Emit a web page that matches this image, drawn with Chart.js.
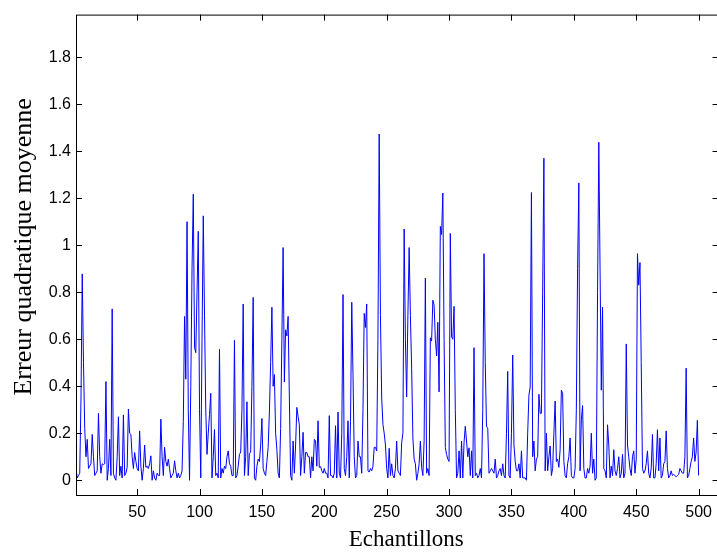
<!DOCTYPE html>
<html>
<head>
<meta charset="utf-8">
<script src="https://cdn.jsdelivr.net/npm/chart.js@4.4.1/dist/chart.umd.min.js"></script>
<style>
  html, body { margin: 0; padding: 0; overflow: hidden; background: #fff; }
  canvas { display: block; }
</style>
</head>
<body>
<canvas id="mse" width="720" height="554"></canvas>
<script>
// erreur quadratique moyenne, echantillons 1..500
const erreur = [
  0.05, 0.01, 0.02, 0.03, 0.35, 0.878, 0.5, 0.22, 0.1, 0.174,
  0.05, 0.06, 0.07, 0.195, 0.1, 0.02, 0.03, 0.04, 0.285, 0.1,
  0.03, 0.07, 0.067, 0.07, 0.42, 0.0, 0.05, 0.174, 0.02, 0.729,
  0.03, 0.01, 0.0, 0.1, 0.27, 0.02, 0.06, 0.01, 0.278, 0.02,
  0.03, 0.055, 0.303, 0.2, 0.195, 0.1, 0.05, 0.118, 0.08, 0.05,
  0.04, 0.21, 0.06, 0.0, 0.05, 0.15, 0.055, 0.06, 0.05, 0.07,
  0.104, 0.0, 0.04, 0.01, 0.0, 0.03, 0.02, 0.02, 0.26, 0.1,
  0.02, 0.14, 0.08, 0.06, 0.09, 0.05, 0.01, 0.02, 0.03, 0.083,
  0.04, 0.01, 0.03, 0.01, 0.02, 0.04, 0.25, 0.697, 0.43, 1.10,
  0.3, 0.0, 0.4, 0.9, 1.217, 0.564, 0.543, 0.8, 1.059, 0.3,
  0.01, 0.6, 1.125, 0.7, 0.3, 0.11, 0.2, 0.28, 0.37, 0.01,
  0.1, 0.216, 0.02, 0.03, 0.01, 0.557, 0.01, 0.05, 0.03, 0.06,
  0.05, 0.1, 0.125, 0.07, 0.06, 0.02, 0.02, 0.595, 0.01, 0.02,
  0.06, 0.11, 0.12, 0.3, 0.75, 0.02, 0.1, 0.334, 0.02, 0.114,
  0.12, 0.4, 0.778, 0.01, 0.0, 0.06, 0.09, 0.08, 0.15, 0.263,
  0.05, 0.03, 0.02, 0.08, 0.14, 0.29, 0.5, 0.736, 0.4, 0.45,
  0.2, 0.13, 0.03, 0.01, 0.22, 0.6, 0.99, 0.418, 0.64, 0.614,
  0.697, 0.35, 0.02, 0.0, 0.167, 0.03, 0.15, 0.31, 0.27, 0.236,
  0.02, 0.1, 0.204, 0.03, 0.118, 0.118, 0.1, 0.1, 0.01, 0.1,
  0.04, 0.174, 0.167, 0.06, 0.253, 0.055, 0.058, 0.04, 0.03, 0.05,
  0.03, 0.03, 0.01, 0.275, 0.02, 0.02, 0.01, 0.03, 0.232, 0.01,
  0.29, 0.03, 0.01, 0.2, 0.79, 0.05, 0.02, 0.1, 0.253, 0.01,
  0.25, 0.757, 0.45, 0.1, 0.01, 0.02, 0.167, 0.1, 0.1, 0.03,
  0.3, 0.71, 0.65, 0.75, 0.04, 0.035, 0.05, 0.04, 0.06, 0.14,
  0.14, 0.125, 0.6, 1.473, 0.7, 0.35, 0.237, 0.2, 0.15, 0.05,
  0.01, 0.136, 0.02, 0.07, 0.02, 0.01, 0.05, 0.167, 0.04, 0.03,
  0.02, 0.16, 0.2, 1.069, 0.6, 0.355, 0.7, 0.99, 0.7, 0.477,
  0.18, 0.09, 0.07, 0.0, 0.03, 0.07, 0.167, 0.055, 0.02, 0.167,
  0.86, 0.03, 0.05, 0.02, 0.606, 0.592, 0.766, 0.745, 0.6, 0.529,
  0.672, 0.376, 1.08, 1.045, 1.222, 0.6, 0.14, 0.11, 0.09, 0.08,
  1.05, 0.61, 0.6, 0.74, 0.3, 0.01, 0.03, 0.125, 0.01, 0.167,
  0.01, 0.16, 0.23, 0.167, 0.1, 0.138, 0.02, 0.125, 0.01, 0.564,
  0.02, 0.03, 0.01, 0.02, 0.05, 0.01, 0.3, 0.964, 0.5, 0.23,
  0.22, 0.03, 0.04, 0.05, 0.04, 0.03, 0.09, 0.01, 0.02, 0.04,
  0.05, 0.02, 0.07, 0.02, 0.01, 0.2, 0.463, 0.02, 0.01, 0.2,
  0.533, 0.15, 0.08, 0.04, 0.04, 0.07, 0.01, 0.125, 0.01, 0.01,
  0.01, 0.0, 0.2, 0.362, 0.397, 1.224, 0.1, 0.167, 0.04, 0.09,
  0.1, 0.366, 0.285, 0.285, 0.8, 1.37, 0.04, 0.2, 0.04, 0.1,
  0.146, 0.02, 0.05, 0.2, 0.337, 0.08, 0.09, 0.055, 0.13, 0.383,
  0.37, 0.08, 0.02, 0.01, 0.07, 0.1, 0.18, 0.02, 0.01, 0.01,
  0.05, 0.3, 0.9, 1.265, 0.04, 0.257, 0.318, 0.05, 0.01, 0.01,
  0.05, 0.03, 0.06, 0.2, 0.03, 0.09, 0.0, 0.01, 0.8, 1.438,
  0.9, 0.383, 0.736, 0.05, 0.04, 0.01, 0.236, 0.15, 0.01, 0.06,
  0.02, 0.13, 0.04, 0.02, 0.05, 0.1, 0.01, 0.03, 0.11, 0.01,
  0.03, 0.58, 0.15, 0.1, 0.05, 0.02, 0.1, 0.125, 0.03, 0.09,
  0.964, 0.83, 0.926, 0.5, 0.05, 0.03, 0.04, 0.07, 0.125, 0.03,
  0.01, 0.05, 0.195, 0.01, 0.01, 0.07, 0.215, 0.04, 0.18, 0.01,
  0.02, 0.07, 0.08, 0.21, 0.05, 0.01, 0.02, 0.04, 0.02, 0.025,
  0.02, 0.015, 0.02, 0.025, 0.05, 0.04, 0.03, 0.03, 0.1, 0.477,
  0.01, 0.02, 0.05, 0.08, 0.1, 0.18, 0.08, 0.12, 0.255, 0.02
];

// sample numbers 1..N
const echantillons = [];
for (let i = 1; i <= erreur.length; i++) echantillons.push(i);

const xTicks = [50, 100, 150, 200, 250, 300, 350, 400, 450, 500];
const yTicks = [0, 0.2, 0.4, 0.6, 0.8, 1, 1.2, 1.4, 1.6, 1.8];
const xTitle = "Echantillons";
const yTitle = "Erreur quadratique moyenne";

const serif = "'Liberation Serif', 'Times New Roman', serif";

// matlab-like box with inward ticks on every side, plus both axis labels
const boxTicks = {
  id: "boxTicks",
  afterDraw(chart) {
    const { ctx, chartArea: a, scales: { x, y } } = chart;
    ctx.save();
    ctx.strokeStyle = "#000";
    ctx.lineWidth = 1;
    ctx.strokeRect(a.left + 0.5, a.top + 0.5, a.right - a.left, a.bottom - a.top);
    ctx.beginPath();
    for (const v of xTicks) {
      const px = Math.round(x.getPixelForValue(v)) + 0.5;
      ctx.moveTo(px, a.bottom);
      ctx.lineTo(px, a.bottom - 6);
      ctx.moveTo(px, a.top);
      ctx.lineTo(px, a.top + 6);
    }
    for (const v of yTicks) {
      const py = Math.round(y.getPixelForValue(v)) + 0.5;
      ctx.moveTo(a.left, py);
      ctx.lineTo(a.left + 6, py);
      ctx.moveTo(a.right, py);
      ctx.lineTo(a.right - 6, py);
    }
    ctx.stroke();

    ctx.fillStyle = "#000";
    ctx.textAlign = "center";
    ctx.textBaseline = "middle";
    // labels sit slightly off the axes centre in the original
    ctx.font = "23px " + serif;
    ctx.fillText(xTitle, (a.left + a.right) / 2 + 9, x.bottom - 14);
    ctx.font = "26px " + serif;
    ctx.translate(y.left + 24, (a.top + a.bottom) / 2 - 8);
    ctx.rotate(-Math.PI / 2);
    ctx.fillText(yTitle, 0, 0);
    ctx.restore();
  }
};

const tickFont = { family: "'Liberation Sans', Arial, sans-serif", size: 16 };

const ctx = document.getElementById("mse").getContext("2d");
const myChart = new Chart(ctx, {
  type: "line",
  data: {
    datasets: [{
      label: yTitle,
      data: erreur.map((v, k) => ({ x: echantillons[k], y: v })),
      borderColor: "#0000ff",
      borderWidth: 1,
      pointRadius: 0,
      tension: 0,
      fill: false
    }]
  },
  options: {
    responsive: false,
    animation: false,
    devicePixelRatio: 1,
    layout: { padding: { top: 6, right: 1, bottom: 0, left: 0 } },
    plugins: { legend: { display: false }, tooltip: { enabled: false } },
    scales: {
      x: {
        type: "linear",
        min: 1,
        max: 516,
        grid: { display: false, drawTicks: false },
        border: { display: false },
        afterBuildTicks: (s) => { s.ticks = xTicks.map(v => ({ value: v })); },
        afterFit: (s) => { s.height = 59; },
        ticks: { font: tickFont, color: "#000", padding: 8, maxRotation: 0, autoSkip: false },
        title: { display: false }
      },
      y: {
        min: -0.0627,
        max: 1.981,
        grid: { display: false, drawTicks: false },
        border: { display: false },
        afterBuildTicks: (s) => { s.ticks = yTicks.map(v => ({ value: v })); },
        afterFit: (s) => { s.width = 76; },
        ticks: { font: tickFont, color: "#000", padding: 5, callback: (v) => String(+v.toFixed(1)) },
        title: { display: false }
      }
    }
  },
  plugins: [boxTicks]
});
</script>
</body>
</html>
